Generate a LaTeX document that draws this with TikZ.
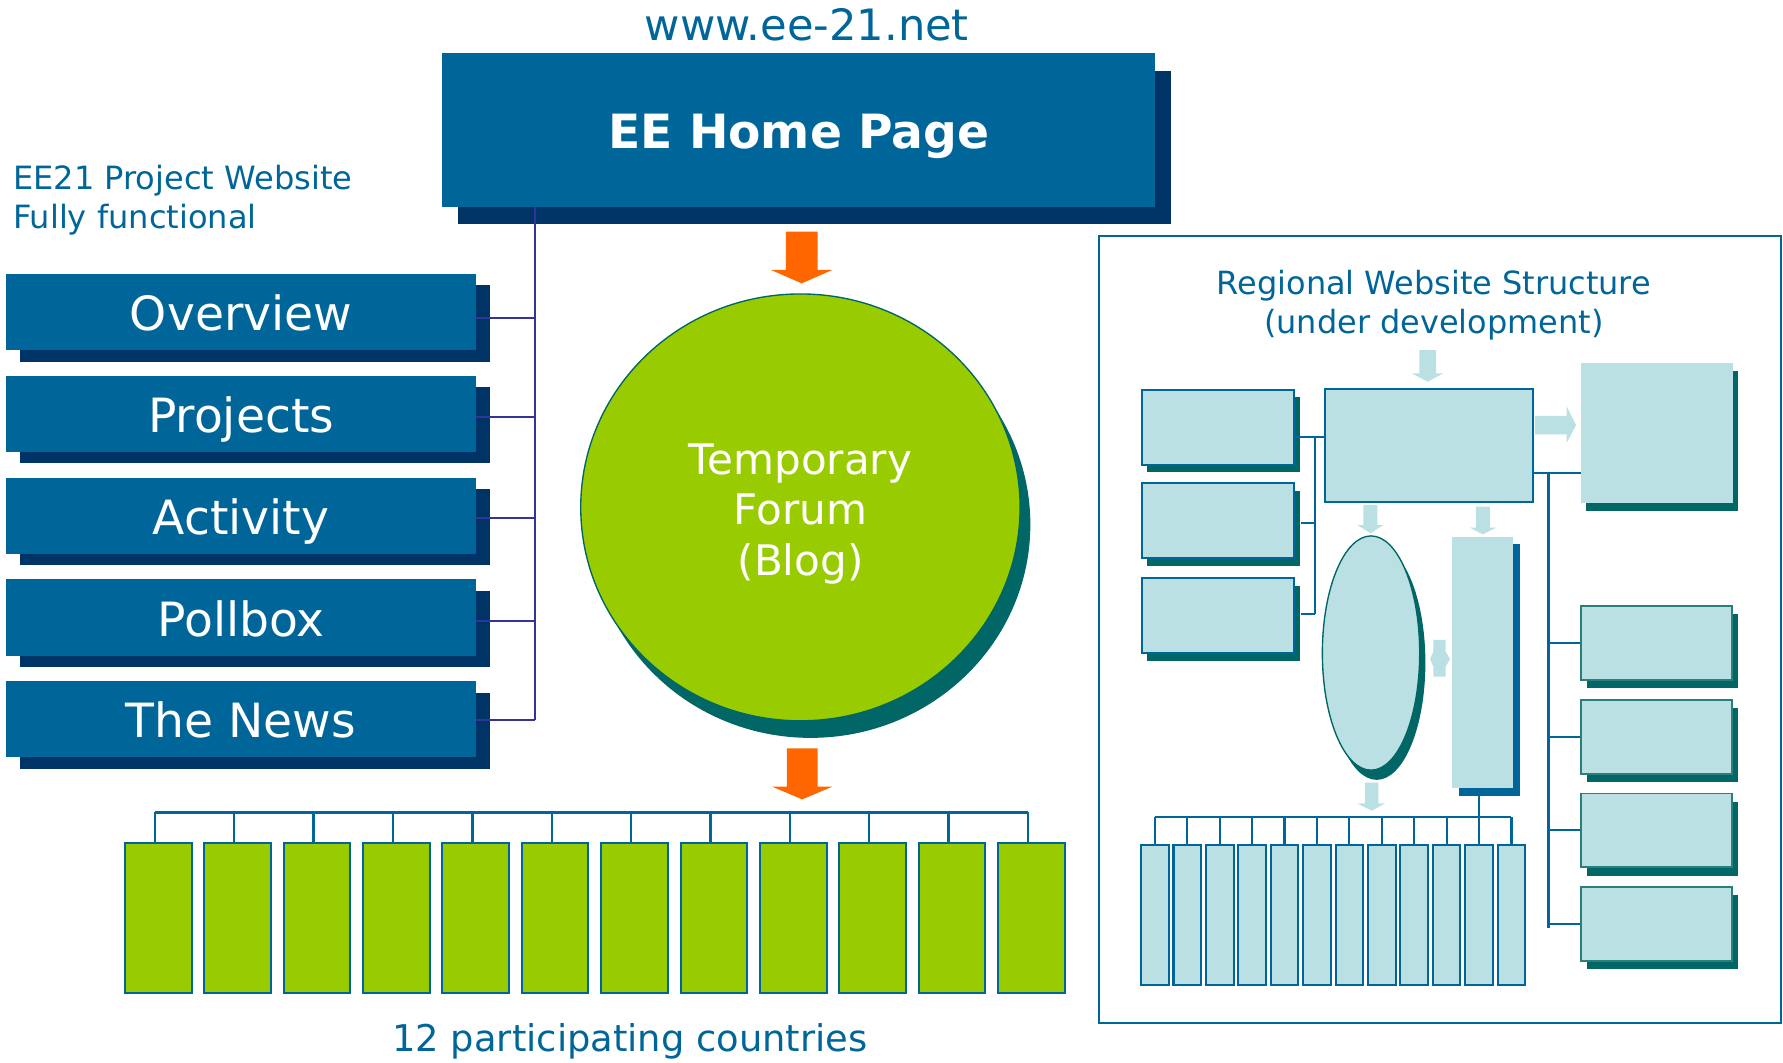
\documentclass[tikz,border=0pt]{standalone}
\usepackage{fontspec}
\setmainfont{DejaVu Sans}
\usetikzlibrary{shapes.geometric,shadows}
\definecolor{eeblue}{HTML}{006699}
\definecolor{eenavy}{HTML}{003366}
\definecolor{eegreen}{HTML}{99CC00}
\definecolor{eeteal}{HTML}{006666}
\definecolor{eetealb}{HTML}{2A7F7B}
\definecolor{eeorange}{HTML}{FF6600}
\definecolor{eepale}{HTML}{BBE0E3}
\definecolor{eepurple}{HTML}{333399}
\newcommand\eefs[2]{\fontsize{#1}{#2}\selectfont}
\begin{document}
\begin{tikzpicture}[x=1pt,y=-1pt,
  txt/.style={inner sep=0pt, text=eeblue},
  menubox/.style={rectangle, fill=eeblue, minimum width=413pt, minimum height=67pt, inner sep=0pt,
    text=white, font=\eefs{41.5}{50}, text height=33pt, text depth=0pt,
    drop shadow={opacity=1, fill=eenavy, shadow xshift=12pt, shadow yshift=-10pt}},
  greenbox/.style={rectangle, fill=eegreen, draw=eeblue, line width=1.8pt, minimum width=58.6pt, minimum height=132pt, inner sep=0pt},
  smallbox/.style={rectangle, fill=eepale, draw=eeblue, line width=1.8pt, minimum width=24.3pt, minimum height=123.5pt, inner sep=0pt},
  lbox/.style={rectangle, fill=eepale, draw=eeblue, line width=1.8pt, minimum width=133.8pt, minimum height=66pt, inner sep=0pt,
    drop shadow={opacity=1, fill=eeteal, shadow xshift=5pt, shadow yshift=-6.5pt}},
  rbox/.style={rectangle, fill=eepale, draw=eetealb, line width=1.5pt, minimum width=132.7pt, minimum height=65pt, inner sep=0pt,
    drop shadow={opacity=1, fill=eeteal, shadow xshift=5.4pt, shadow yshift=-7.3pt}},
  pline/.style={draw=eepurple, line width=1.9pt},
  rline/.style={draw=eeblue, line width=1.9pt},
  gline/.style={draw=eeblue, line width=2pt}]
\useasboundingbox (0,0) rectangle (1568,934);

% ---------- left part ----------
\node[txt, anchor=base, font=\eefs{38}{44}] (url) at (709.5,35.2) {www.ee-21.net};
\node[rectangle, fill=eeblue, minimum width=627pt, minimum height=135pt, inner sep=0pt,
  text=white, font=\eefs{41.5}{50}\bfseries, text height=33pt, text depth=0pt,
  drop shadow={opacity=1, fill=eenavy, shadow xshift=14pt, shadow yshift=-15pt}] (ee) at (702.5,114.5) {EE Home Page};
\node[txt, anchor=west, align=left, font=\eefs{28.2}{34.3}] (cap) at (11.3,175.9) {EE21 Project Website\\Fully functional};

\node[menubox] (ov) at (212,274.5) {Overview};
\node[menubox] (pr) at (212,364) {Projects};
\node[menubox] (ac) at (212,453.5) {Activity};
\node[menubox] (po) at (212,543) {Pollbox};
\node[menubox] (nw) at (212,632.5) {The News};

\coordinate (spine) at (470.3,0);
\coordinate (ovT) at ([yshift=-4.9pt]ov.east);
\coordinate (prT) at ([yshift=-2.4pt]pr.east);
\coordinate (acT) at ([yshift=-1.8pt]ac.east);
\coordinate (poT) at ([yshift=-2.8pt]po.east);
\coordinate (nwT) at ([yshift=-0.7pt]nw.east);
\draw[pline] (ee.south -| spine) -- (nwT -| spine);
\foreach \t in {ovT,prT,acT,poT,nwT} \draw[pline] (\t) -- (\t -| spine);

% orange arrows
\fill[eeorange] (691,203.7) -- (719,203.7) -- (719,237.4) -- (732,237.4) -- (705,249.2) -- (678,237.4) -- (691,237.4) -- cycle;
\fill[eeorange] (692,658.1) -- (719,658.1) -- (719,691.8) -- (732,691.8) -- (705.5,703) -- (679,691.8) -- (692,691.8) -- cycle;

% forum
\node[ellipse, fill=eegreen, draw=eeteal, line width=1.2pt, minimum width=386.4pt, minimum height=375.4pt, inner sep=0pt,
  drop shadow={opacity=1, fill=eeteal, shadow xshift=9pt, shadow yshift=-15pt}] (forum) at (703.9,446.2) {};
\node[inner sep=0pt, text=white, align=center, font=\eefs{37}{44.6}] (forumtxt) at (704,451.8) {Temporary\\Forum\\(Blog)};

% countries
\foreach \i in {1,...,12} {
  \node[greenbox] (g\i) at ({139.2+69.8*(\i-1)},807) {};
  \coordinate (gd\i) at ([xshift=-3pt]g\i.north);
}
\coordinate (gbus) at (0,714.4);
\draw[gline] (gd1 |- gbus) -- (gd12 |- gbus);
\foreach \i in {1,...,12} \draw[gline] (gd\i) -- (gd\i |- gbus);
\node[txt, anchor=base, font=\eefs{32.4}{38}] (countries) at (554,925) {12 participating countries};

% ---------- right panel ----------
\node[draw=eeblue, line width=1.8pt, minimum width=599.6pt, minimum height=691.9pt, inner sep=0pt] (frame) at (1266.1,553.45) {};
\node[txt, align=center, font=\eefs{28.1}{33.7}] (rtitle) at (1261,268.5) {Regional Website Structure\\(under development)};

\node[lbox] (lb1) at (1070.9,376) {};
\node[lbox] (lb2) at (1070.9,458) {};
\node[lbox] (lb3) at (1070.9,541.6) {};
\node[rectangle, fill=eepale, draw=eeblue, line width=1.8pt, minimum width=182.7pt, minimum height=99.2pt, inner sep=0pt] (cb) at (1256.55,392.1) {};
\node[rectangle, fill=eepale, minimum width=133.5pt, minimum height=123pt, inner sep=0pt,
  drop shadow={opacity=1, fill=eeteal, shadow xshift=4.5pt, shadow yshift=-7pt}] (bb) at (1457.25,380.5) {};
\node[rbox] (rb1) at (1456.95,565.5) {};
\node[rbox] (rb2) at (1456.95,648.1) {};
\node[rbox] (rb3) at (1456.95,730.2) {};
\node[rbox] (rb4) at (1456.95,812.3) {};
\node[ellipse, fill=eepale, draw=eeteal, line width=1.2pt, minimum width=85.6pt, minimum height=206pt, inner sep=0pt,
  drop shadow={opacity=1, fill=eeteal, shadow xshift=5pt, shadow yshift=-8.5pt}] (el) at (1205.7,574.3) {};
\node[rectangle, fill=eepale, minimum width=53.7pt, minimum height=221.3pt, inner sep=0pt,
  drop shadow={opacity=1, fill=eeblue, shadow xshift=6pt, shadow yshift=-6.7pt}] (tr) at (1304.05,582.65) {};

\foreach \i in {1,...,12} \node[smallbox] (s\i) at ({1015.65+28.5*(\i-1)},804.75) {};

% right-panel connectors
\coordinate (lsp) at (1156.5,0);
\coordinate (lb1T) at ([yshift=-8pt]lb1.east);
\coordinate (lb2T) at ([yshift=-2pt]lb2.east);
\coordinate (lb3T) at ([yshift=1.6pt]lb3.east);
\draw[rline] (lb1T) -- (lb1T -| cb.west);
\draw[rline] (lb1T -| lsp) -- (lb3T -| lsp);
\draw[rline] ([xshift=5pt]lb2T) -- (lb2T -| lsp);
\draw[rline] ([xshift=5pt]lb3T) -- (lb3T -| lsp);

\coordinate (rsp) at (1361.7,0);
\coordinate (rjA) at ([yshift=27pt]cb.south east);
\coordinate (rspEnd) at (1361.7,816);
\draw[rline] (rjA) -- (rjA -| bb.west);
\draw[rline] (rjA -| rsp) -- (rspEnd);
\foreach \b in {rb1,rb2,rb3,rb4} \draw[rline] (\b.west) -- (\b.west -| rsp);

\coordinate (sbus) at (0,718.2);
\draw[rline] (s1.north |- sbus) -- (s12.north |- sbus);
\foreach \i in {1,...,12} \draw[rline] (s\i.north) -- (s\i.north |- sbus);
\draw[rline] (s11.north |- tr.south) -- (s11.north |- sbus);

% light block arrows
\fill[eepale] (1248.2,307.8) -- (1262.9,307.8) -- (1262.9,328.3) -- (1269.3,328.3) -- (1255.5,335.7) -- (1241.5,328.3) -- (1248.2,328.3) -- cycle;
\fill[eepale] (1199,444) -- (1211.3,444) -- (1211.3,461.7) -- (1216.6,461.7) -- (1205.2,469) -- (1193.7,461.7) -- (1199,461.7) -- cycle;
\fill[eepale] (1298,445.6) -- (1310.3,445.6) -- (1310.3,464) -- (1315.6,464) -- (1304,470) -- (1292.7,464) -- (1298,464) -- cycle;
\fill[eepale] (1200.4,688.3) -- (1212.2,688.3) -- (1212.2,706.5) -- (1218,706.5) -- (1206.3,713) -- (1193.7,706.5) -- (1200.4,706.5) -- cycle;
\fill[eepale] (1349.9,365.8) -- (1377.8,365.8) -- (1377.8,357.6) -- (1386,373.8) -- (1377.8,389.3) -- (1377.8,382) -- (1349.9,382) -- cycle;
\fill[eepale] (1260.5,562.8) -- (1271.3,562.8) -- (1271.3,573.1) -- (1275.2,579.5) -- (1271.3,586.3) -- (1271.3,595.1) -- (1260.5,595.1) -- (1260.5,586.3) -- (1257.6,579.5) -- (1260.5,573.1) -- cycle;
\end{tikzpicture}
\end{document}
